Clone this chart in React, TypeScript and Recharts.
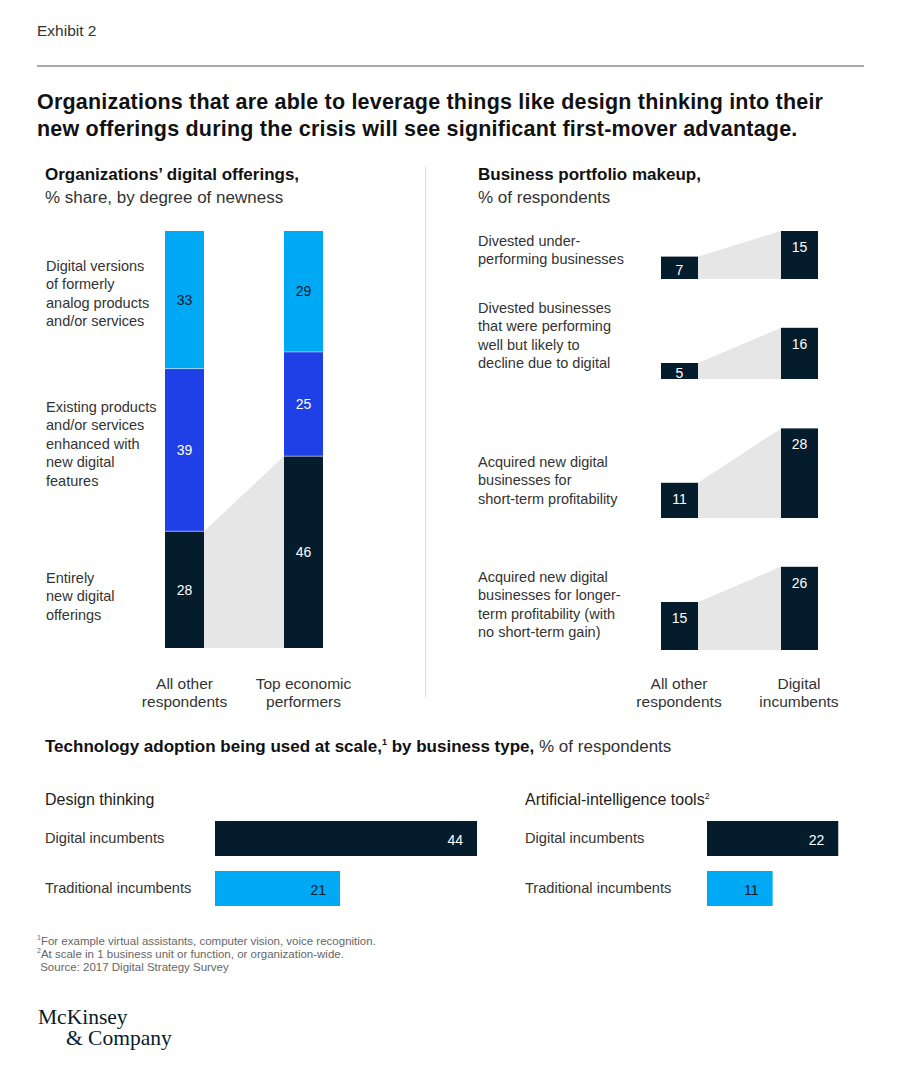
import React from "react";
import { BarChart, Bar, XAxis, YAxis, LabelList, Cell } from "recharts";

const FONT = "'Liberation Sans', Arial, sans-serif";
const SERIF = "'Liberation Serif', 'Times New Roman', serif";
const NAVY = "#051C2C";
const BLUE = "#1F40E6";
const CYAN = "#00A9F4";
const GRAY = "#E6E6E6";
const TEXT = "#333333";

// ---------- Left panel: Organizations' digital offerings ----------
const offeringGroups = ["All other\nrespondents", "Top economic\nperformers"];
const entirelyNew = [28, 46];
const enhanced = [39, 25];
const digitalVersions = [33, 29];
const offeringLabels = [
  "Digital versions\nof formerly\nanalog products\nand/or services",
  "Existing products\nand/or services\nenhanced with\nnew digital\nfeatures",
  "Entirely\nnew digital\nofferings",
];

// ---------- Right panel: Business portfolio makeup ----------
const portfolioGroups = ["All other\nrespondents", "Digital\nincumbents"];
const portfolioActions = [
  "Divested under-\nperforming businesses",
  "Divested businesses\nthat were performing\nwell but likely to\ndecline due to digital",
  "Acquired new digital\nbusinesses for\nshort-term profitability",
  "Acquired new digital\nbusinesses for longer-\nterm profitability (with\nno short-term gain)",
];
const portfolioOther = [7, 5, 11, 15];
const portfolioDigital = [15, 16, 28, 26];

// ---------- Bottom: Technology adoption ----------
const adoptionTypes = ["Digital incumbents", "Traditional incumbents"];
const designThinking = [44, 21];
const aiTools = [22, 11];

// ---------- layout helpers ----------
const offeringData = offeringGroups.map((g, i) => ({
  group: g,
  entirelyNew: entirelyNew[i],
  enhanced: enhanced[i],
  digitalVersions: digitalVersions[i],
}));

type Store = { x?: number; y?: number; w?: number; h?: number };

const connectorShape = (fill: string, store: Store, firstKey: string) => (props: any) => {
  const { x, y, width, height, payload } = props;
  const isFirst = payload && payload.group === firstKey;
  if (isFirst) {
    store.x = x;
    store.y = y;
    store.w = width;
    store.h = height;
    return <rect x={x} y={y} width={width} height={height} fill={fill} />;
  }
  const bottom = y + height;
  let poly = null;
  if (store.x !== undefined && store.w !== undefined && store.y !== undefined) {
    const xr = store.x + store.w;
    const pts = `${xr},${store.y} ${x},${y} ${x},${bottom} ${xr},${bottom}`;
    poly = <polygon points={pts} fill={GRAY} />;
  }
  return (
    <g>
      {poly}
      <rect x={x} y={y} width={width} height={height} fill={fill} />
    </g>
  );
};

const segShape = (fill: string) => (props: any) => {
  const { x, y, width, height } = props;
  return (
    <g>
      <rect x={x} y={y} width={width} height={height} fill={fill} />
      <line x1={x} x2={x + width} y1={y + height} y2={y + height} stroke="#ffffff" strokeOpacity={0.5} strokeWidth={1} />
    </g>
  );
};

const makeTwoLineTick = (firstDy: number) => (props: any) => {
  const { x, y, payload } = props;
  const lines = String(payload.value).split("\n");
  return (
    <text x={x} y={y} textAnchor="middle" fill={TEXT} fontSize={15.5} fontFamily={FONT}>
      {lines.map((l, i) => (
        <tspan key={i} x={x} dy={i === 0 ? firstDy : 18}>
          {l}
        </tspan>
      ))}
    </text>
  );
};
const LeftTick = makeTwoLineTick(39);
const RightTick = makeTwoLineTick(37);

const TextBlock = ({ text, left, top, size = 14.5, lh = 18.5, color = TEXT, width }: any) => (
  <div
    style={{
      position: "absolute",
      left,
      top,
      width,
      fontSize: size,
      lineHeight: `${lh}px`,
      color,
      fontFamily: FONT,
      whiteSpace: "pre",
    }}
  >
    {text}
  </div>
);

const OfferingsChart = () => {
  const store: Store = {};
  return (
    <BarChart
      width={238}
      height={487}
      data={offeringData}
      margin={{ top: 0, right: 0, bottom: 0, left: 0 }}
      barSize={39}
    >
      <XAxis dataKey="group" height={70} axisLine={false} tickLine={false} tickSize={0} tick={<LeftTick />} interval={0} />
      <YAxis hide domain={[0, 100]} />
      <Bar dataKey="entirelyNew" stackId="a" fill={NAVY} isAnimationActive={false} shape={connectorShape(NAVY, store, offeringGroups[0])}>
        <LabelList dataKey="entirelyNew" position="center" fill="#ffffff" fontSize={14} fontFamily={FONT} />
      </Bar>
      <Bar dataKey="enhanced" stackId="a" fill={BLUE} isAnimationActive={false} shape={segShape(BLUE)}>
        <LabelList dataKey="enhanced" position="center" fill="#ffffff" fontSize={14} fontFamily={FONT} />
      </Bar>
      <Bar dataKey="digitalVersions" stackId="a" fill={CYAN} isAnimationActive={false} shape={segShape(CYAN)}>
        <LabelList dataKey="digitalVersions" position="center" fill={NAVY} fontSize={14} fontFamily={FONT} />
      </Bar>
    </BarChart>
  );
};

const PortfolioLabel = (props: any) => {
  const { x, y, width, height, value } = props;
  const cy = y + Math.min(16, height / 2 + 2);
  return (
    <text x={x + width / 2} y={cy} textAnchor="middle" dominantBaseline="central" fill="#ffffff" fontSize={14} fontFamily={FONT}>
      {value}
    </text>
  );
};

const PortfolioRow = ({ idx, showAxis }: { idx: number; showAxis: boolean }) => {
  const store: Store = {};
  const data = [
    { group: portfolioGroups[0], value: portfolioOther[idx] },
    { group: portfolioGroups[1], value: portfolioDigital[idx] },
  ];
  return (
    <BarChart
      width={240}
      height={showAxis ? 170 : 100}
      data={data}
      margin={{ top: 0, right: 0, bottom: 4, left: 0 }}
      barSize={37}
    >
      <XAxis
        dataKey="group"
        hide={!showAxis}
        height={70}
        axisLine={false}
        tickLine={false}
        tickSize={0}
        tick={<RightTick />}
        interval={0}
      />
      <YAxis hide domain={[0, 30]} />
      <Bar dataKey="value" fill={NAVY} isAnimationActive={false} shape={connectorShape(NAVY, store, portfolioGroups[0])}>
        <LabelList dataKey="value" content={<PortfolioLabel />} />
      </Bar>
    </BarChart>
  );
};

const AdoptionTick = (props: any) => {
  const { y, payload } = props;
  return (
    <text x={0} y={y} textAnchor="start" dominantBaseline="central" fill={TEXT} fontSize={14.6} fontFamily={FONT}>
      {payload.value}
    </text>
  );
};

const AdoptionLabel = (props: any) => {
  const { x, y, width, height, value, index } = props;
  return (
    <text
      x={x + width - 14}
      y={y + height / 2 + 1}
      textAnchor="end"
      dominantBaseline="central"
      fill={index === 0 ? "#ffffff" : NAVY}
      fontSize={14}
      fontFamily={FONT}
    >
      {value}
    </text>
  );
};

const PX_PER_UNIT = 5.96;

const AdoptionChart = ({ values, axisWidth, domainMax }: { values: number[]; axisWidth: number; domainMax: number }) => {
  const data = adoptionTypes.map((t, i) => ({ type: t, value: values[i] }));
  const colors = [NAVY, CYAN];
  return (
    <BarChart
      layout="vertical"
      width={axisWidth + Math.round(domainMax * PX_PER_UNIT)}
      height={100}
      data={data}
      margin={{ top: 0, right: 0, bottom: 0, left: 0 }}
      barSize={35}
    >
      <XAxis type="number" hide domain={[0, domainMax]} />
      <YAxis type="category" dataKey="type" width={axisWidth} axisLine={false} tickLine={false} tick={<AdoptionTick />} interval={0} />
      <Bar dataKey="value" isAnimationActive={false}>
        {data.map((d, i) => (
          <Cell key={d.type} fill={colors[i]} />
        ))}
        <LabelList dataKey="value" content={<AdoptionLabel />} />
      </Bar>
    </BarChart>
  );
};

const rowTops = [183, 283, 422, 554];
const offeringLabelTops = [256.75, 397.75, 568.75];
const actionLabelTops = [231.75, 298.75, 452.75, 567.75];

export default function App() {
  return (
    <div style={{ position: "absolute", left: 0, top: 0, width: 902, height: 1080, background: "#fff", fontFamily: FONT, overflow: "hidden" }}>
      <TextBlock text="Exhibit 2" left={37} top={22} size={15.5} lh={18} color="#333" />
      <div style={{ position: "absolute", left: 37, top: 65, width: 827, height: 1.5, background: "#aaaaaa" }} />
      <div
        style={{
          position: "absolute",
          left: 37,
          top: 88.5,
          width: 860,
          fontSize: 21.5,
          letterSpacing: 0.2,
          lineHeight: "27px",
          fontWeight: 700,
          color: "#111",
          fontFamily: FONT,
          whiteSpace: "nowrap",
        }}
      >
        Organizations that are able to leverage things like design thinking into their
        <br />
        new offerings during the crisis will see significant first-mover advantage.
      </div>

      <div style={{ position: "absolute", left: 45, top: 162.5, fontSize: 17, lineHeight: "23px", color: "#111", fontFamily: FONT }}>
        <b>Organizations’ digital offerings,</b>
        <br />
        <span style={{ color: TEXT }}>% share, by degree of newness</span>
      </div>
      <div style={{ position: "absolute", left: 478, top: 162.5, fontSize: 17, lineHeight: "23px", color: "#111", fontFamily: FONT }}>
        <b>Business portfolio makeup,</b>
        <br />
        <span style={{ color: TEXT }}>% of respondents</span>
      </div>
      <div style={{ position: "absolute", left: 425, top: 167, width: 1, height: 530, background: "#dddddd" }} />

      {offeringLabels.map((t, i) => (
        <TextBlock key={t} text={t} left={46} top={offeringLabelTops[i]} />
      ))}
      <div style={{ position: "absolute", left: 125, top: 231 }}>
        <OfferingsChart />
      </div>

      {portfolioActions.map((t, i) => (
        <TextBlock key={t} text={t} left={478} top={actionLabelTops[i]} />
      ))}
      {portfolioActions.map((t, i) => (
        <div key={"row" + i} style={{ position: "absolute", left: 619, top: rowTops[i] }}>
          <PortfolioRow idx={i} showAxis={i === portfolioActions.length - 1} />
        </div>
      ))}

      <div style={{ position: "absolute", left: 45, top: 737, fontSize: 17, lineHeight: "20px", color: "#111", fontFamily: FONT, whiteSpace: "nowrap" }}>
        <b>
          Technology adoption being used at scale,<sup style={{ fontSize: 9, lineHeight: 0 }}>1</sup> by business type,
        </b>
        <span style={{ color: TEXT }}> % of respondents</span>
      </div>

      <TextBlock text="Design thinking" left={45} top={790} size={16} lh={20} color="#222" />
      <div style={{ position: "absolute", left: 525, top: 790, fontSize: 16, lineHeight: "20px", color: "#222", fontFamily: FONT }}>
        Artificial-intelligence tools<sup style={{ fontSize: 9, lineHeight: 0 }}>2</sup>
      </div>

      <div style={{ position: "absolute", left: 45, top: 813 }}>
        <AdoptionChart values={designThinking} axisWidth={170} domainMax={45} />
      </div>
      <div style={{ position: "absolute", left: 525, top: 813 }}>
        <AdoptionChart values={aiTools} axisWidth={182} domainMax={30} />
      </div>

      <div style={{ position: "absolute", left: 37, top: 934.5, fontSize: 11.5, lineHeight: "13px", color: "#666", fontFamily: FONT, whiteSpace: "pre" }}>
        <sup style={{ fontSize: 7, lineHeight: 0 }}>1</sup>For example virtual assistants, computer vision, voice recognition.
        <br />
        <sup style={{ fontSize: 7, lineHeight: 0 }}>2</sup>At scale in 1 business unit or function, or organization-wide.
        <br />
        {" Source: 2017 Digital Strategy Survey"}
      </div>

      <div style={{ position: "absolute", left: 38, top: 1006.5, fontSize: 21.5, lineHeight: "21px", color: NAVY, fontFamily: SERIF }}>
        McKinsey
        <br />
        <span style={{ paddingLeft: 28 }}>&amp; Company</span>
      </div>
    </div>
  );
}
